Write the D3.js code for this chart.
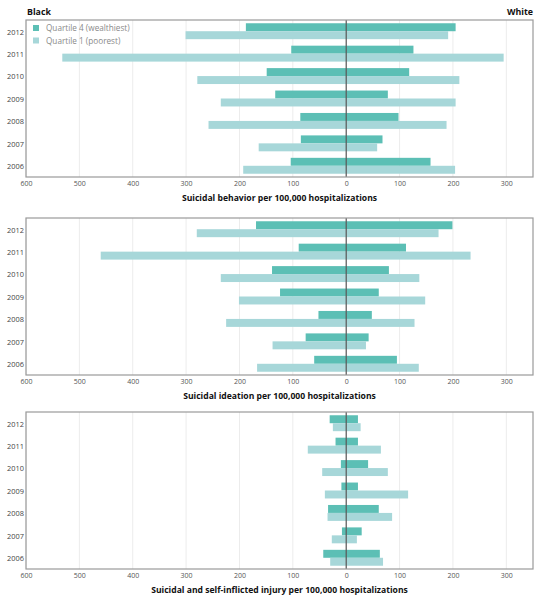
<!DOCTYPE html>
<html>
<head>
<meta charset="utf-8">
<script src="https://cdn.jsdelivr.net/npm/d3@7"></script>
<style>
  html, body { margin: 0; padding: 0; background: #fff; }
  svg { display: block; font-family: "Open Sans", sans-serif; }
</style>
</head>
<body>
<div id="chart"></div>
<script>
// ---- Data ----
const years = [2012, 2011, 2010, 2009, 2008, 2007, 2006];
const seriesNames = ["Quartile 4 (wealthiest)", "Quartile 1 (poorest)"];
const tickValues = [-600, -500, -400, -300, -200, -100, 0, 100, 200, 300];

// Suicidal behavior
const behaviorBlackQ4 = [188, 103, 149, 133, 86, 85, 104];
const behaviorBlackQ1 = [301, 532, 279, 235, 258, 164, 193];
const behaviorWhiteQ4 = [205, 126, 118, 78, 98, 68, 158];
const behaviorWhiteQ1 = [191, 295, 212, 205, 188, 58, 204];

// Suicidal ideation
const ideationBlackQ4 = [169, 89, 139, 124, 52, 76, 60];
const ideationBlackQ1 = [280, 460, 235, 201, 225, 138, 167];
const ideationWhiteQ4 = [199, 112, 80, 61, 48, 42, 95];
const ideationWhiteQ1 = [173, 233, 137, 148, 128, 37, 136];

// Suicidal and self-inflicted injury
const injuryBlackQ4 = [31, 20, 10, 9, 34, 8, 43];
const injuryBlackQ1 = [25, 72, 45, 40, 35, 27, 30];
const injuryWhiteQ4 = [22, 22, 41, 22, 61, 29, 63];
const injuryWhiteQ1 = [27, 65, 78, 116, 86, 20, 69];

const panels = [
  { title: "Suicidal behavior per 100,000 hospitalizations",
    bq4: behaviorBlackQ4, bq1: behaviorBlackQ1, wq4: behaviorWhiteQ4, wq1: behaviorWhiteQ1, top: 20 },
  { title: "Suicidal ideation per 100,000 hospitalizations",
    bq4: ideationBlackQ4, bq1: ideationBlackQ1, wq4: ideationWhiteQ4, wq1: ideationWhiteQ1, top: 218 },
  { title: "Suicidal and self-inflicted injury per 100,000 hospitalizations",
    bq4: injuryBlackQ4, bq1: injuryBlackQ1, wq4: injuryWhiteQ4, wq1: injuryWhiteQ1, top: 412 }
];

// ---- Layout ----
const W = 547, H = 599;
const left = 26, right = 533;
const panelH = 157;
const colorQ4 = "#5cbfb5";
const colorQ1 = "#a7d7d9";

const svg = d3.select("#chart").append("svg").attr("width", W).attr("height", H);

const x = d3.scaleLinear().domain([-600, 350]).range([left, right]);

panels.forEach((p, pi) => {
  const top = p.top, bottom = top + panelH;
  const y = d3.scaleBand().domain(years).range([top, bottom]).paddingInner(0.29).paddingOuter(0.145);
  const sub = d3.scaleBand().domain(["q4", "q1"]).range([0, y.bandwidth()]);
  const g = svg.append("g");

  // grid lines
  g.append("g").selectAll("line").data(tickValues.filter(v => v !== 0)).join("line")
    .attr("x1", d => x(d)).attr("x2", d => x(d))
    .attr("y1", top).attr("y2", bottom)
    .attr("stroke", "#ececec").attr("stroke-width", 1);

  // bars
  const rows = years.map((yr, i) => ({ yr, bq4: p.bq4[i], bq1: p.bq1[i], wq4: p.wq4[i], wq1: p.wq1[i] }));
  const bars = [];
  rows.forEach(r => {
    bars.push({ yr: r.yr, k: "q4", v0: -r.bq4, v1: 0, c: colorQ4 });
    bars.push({ yr: r.yr, k: "q4", v0: 0, v1: r.wq4, c: colorQ4 });
    bars.push({ yr: r.yr, k: "q1", v0: -r.bq1, v1: 0, c: colorQ1 });
    bars.push({ yr: r.yr, k: "q1", v0: 0, v1: r.wq1, c: colorQ1 });
  });
  g.append("g").selectAll("rect").data(bars).join("rect")
    .attr("x", d => x(d.v0))
    .attr("width", d => x(d.v1) - x(d.v0))
    .attr("y", d => y(d.yr) + sub(d.k))
    .attr("height", sub.bandwidth())
    .attr("fill", d => d.c);

  // zero line
  g.append("line").attr("x1", x(0)).attr("x2", x(0)).attr("y1", top).attr("y2", bottom)
    .attr("stroke", "#555").attr("stroke-width", 1.2);

  // frame
  g.append("rect").attr("x", left).attr("y", top).attr("width", right - left).attr("height", panelH)
    .attr("fill", "none").attr("stroke", "#9a9a9a").attr("stroke-width", 1.2);

  // y axis labels
  const yAxis = d3.axisLeft(y).tickSize(0).tickPadding(2);
  const ya = g.append("g").attr("transform", `translate(${left},1)`).call(yAxis);
  ya.select(".domain").remove();
  ya.selectAll("text").attr("font-size", 7.4).attr("fill", "#444").attr("font-family", "Open Sans, sans-serif");

  // x axis
  const xAxis = d3.axisBottom(x).tickValues(tickValues).tickSize(0).tickPadding(4)
    .tickFormat(d => d3.format("d")(Math.abs(d)));
  const xa = g.append("g").attr("transform", `translate(0,${bottom})`).call(xAxis);
  xa.select(".domain").remove();
  xa.selectAll("text").attr("font-size", 7).attr("fill", "#555").attr("font-family", "Open Sans, sans-serif");

  // title
  g.append("text").attr("x", (left + right) / 2).attr("y", bottom + 24)
    .attr("text-anchor", "middle").attr("font-weight", "bold").attr("font-size", 8.6)
    .attr("fill", "#111").text(p.title);

  if (pi === 0) {
    svg.append("text").attr("x", 27).attr("y", 15).attr("font-weight", "bold")
      .attr("font-size", 8.8).attr("fill", "#111").text("Black");
    svg.append("text").attr("x", right).attr("y", 15).attr("text-anchor", "end").attr("font-weight", "bold")
      .attr("font-size", 8.8).attr("fill", "#111").text("White");

    const leg = svg.append("g").attr("transform", `translate(33,25)`);
    [colorQ4, colorQ1].forEach((c, i) => {
      leg.append("rect").attr("x", 0).attr("y", i * 12.5).attr("width", 6).attr("height", 6).attr("fill", c);
      leg.append("text").attr("x", 13).attr("y", i * 12.5 + 6.2).attr("font-size", 8.2)
        .attr("fill", "#8a8a8a").text(seriesNames[i]);
    });
  }
});
</script>
</body>
</html>
